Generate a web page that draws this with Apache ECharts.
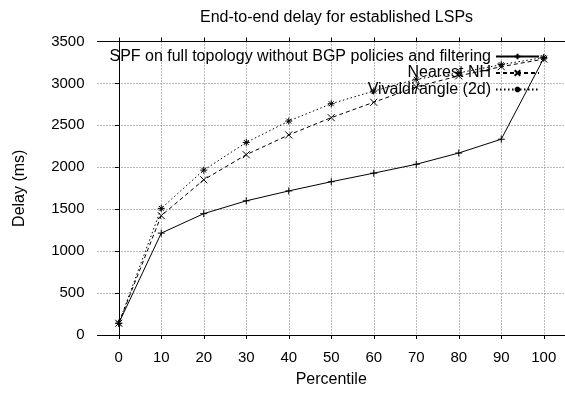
<!DOCTYPE html>
<html>
<head>
<meta charset="utf-8">
<script src="https://cdn.jsdelivr.net/npm/echarts@6/dist/echarts.min.js"></script>
<style>html,body{margin:0;padding:0;background:#fff}#c{width:565px;height:393px}</style>
</head>
<body>
<div id="c"></div>
<script>
const titleText = 'End-to-end delay for established LSPs';
const xName = 'Percentile';
const yName = 'Delay (ms)';
const percentiles = [0, 10, 20, 30, 40, 50, 60, 70, 80, 90, 100];
const yTicks = [0, 500, 1000, 1500, 2000, 2500, 3000, 3500];
const seriesNames = ['SPF on full topology without BGP policies and filtering', 'Nearest NH', 'Vivaldi/angle (2d)'];
const spf = [140, 1215, 1447, 1600, 1718, 1828, 1930, 2036, 2170, 2335, 3300];
const nearest = [140, 1423, 1851, 2150, 2386, 2592, 2775, 2960, 3090, 3200, 3290];
const vivaldi = [140, 1510, 1966, 2296, 2551, 2758, 2909, 3050, 3126, 3224, 3310];

const FONT = 'Liberation Sans, Arial, Helvetica, sans-serif';
const plusPath = 'path://M0,5L10,5M5,0L5,10';
const crossPath = 'path://M0,0L10,10M10,0L0,10';
const starPath = 'path://M0,5L10,5M5,0L5,10M1.5,1.5L8.5,8.5M8.5,1.5L1.5,8.5';

function pts(vals) { return percentiles.map((p, i) => [p, vals[i]]); }

const styles = [
  { sym: plusPath, type: 'solid' },
  { sym: crossPath, type: [4, 3] },
  { sym: starPath, type: [1.5, 2.5] }
];
const dataSets = [spf, nearest, vivaldi];

const series = dataSets.map((d, i) => ({
  name: seriesNames[i],
  type: 'line',
  data: pts(d),
  symbol: styles[i].sym,
  symbolSize: 7,
  showAllSymbol: true,
  lineStyle: { color: '#000', width: 1, type: styles[i].type },
  itemStyle: { color: '#000', borderColor: '#000', borderWidth: 1 },
  emphasis: { disabled: true },
  z: 5 - i
}));

const legendTops = [43.5, 60, 76.5];
const legends = seriesNames.map((n, i) => ({
  data: [n],
  right: 20,
  top: legendTops[i],
  orient: 'vertical',
  align: 'right',
  itemWidth: 43,
  itemHeight: 7,
  selectedMode: false,
  textStyle: { fontFamily: FONT, fontSize: 16, color: '#000' }
}));

const chart = echarts.init(document.getElementById('c'), null, { renderer: 'canvas' });
chart.setOption({
  animation: false,
  backgroundColor: '#fff',
  title: {
    text: titleText,
    left: 195,
    top: 5,
    textStyle: { fontFamily: FONT, fontSize: 16, fontWeight: 'normal', color: '#000' }
  },
  legend: legends,
  grid: { left: 97.5, right: 0, top: 41.5, bottom: 54.3 },
  xAxis: [
    {
      type: 'value', position: 'bottom', min: -5, max: 105,
      name: xName, nameLocation: 'middle', nameGap: 37,
      nameTextStyle: { fontFamily: FONT, fontSize: 16, color: '#000' },
      axisLine: { show: true, onZero: false, lineStyle: { color: '#000', width: 1 } },
      axisTick: { show: true, customValues: percentiles, length: 4, lineStyle: { color: '#000' } },
      axisLabel: { customValues: percentiles, margin: 15, fontFamily: FONT, fontSize: 15, color: '#000' },
      splitLine: { show: true, customValues: percentiles, lineStyle: { color: '#777', type: [1, 2], width: 1 } }
    },
    {
      type: 'value', position: 'top', min: -5, max: 105,
      axisLine: { show: true, onZero: false, lineStyle: { color: '#000', width: 1 } },
      axisTick: { show: true, customValues: percentiles, length: 4, lineStyle: { color: '#000' } },
      axisLabel: { show: false },
      splitLine: { show: false }
    }
  ],
  yAxis: {
    type: 'value', min: yTicks[0], max: yTicks[yTicks.length - 1], interval: 500,
    name: yName, nameLocation: 'middle', nameGap: 70, nameRotate: 90,
    nameTextStyle: { fontFamily: FONT, fontSize: 16, color: '#000' },
    axisLine: { show: true, lineStyle: { color: '#000', width: 1 } },
    axisTick: { show: true, length: 4, lineStyle: { color: '#000' } },
    axisLabel: { margin: 13, fontFamily: FONT, fontSize: 15, color: '#000', formatter: v => String(v) },
    splitLine: { show: true, lineStyle: { color: '#777', type: [1, 2], width: 1 } }
  },
  series: series
});
</script>
</body>
</html>
